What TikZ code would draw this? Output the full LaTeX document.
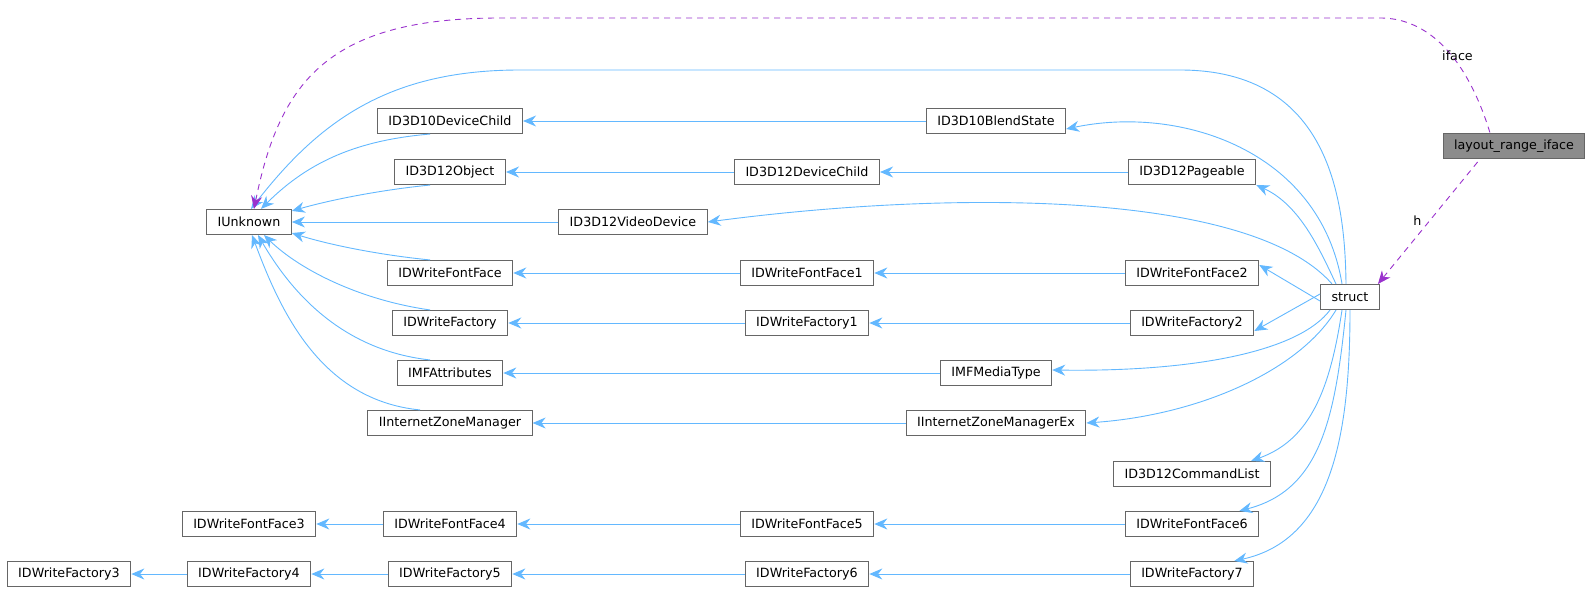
\documentclass[tikz,border=0pt]{standalone}
\usepackage{fontspec}
\setmainfont{DejaVu Sans}
\usepackage{tikz}
\usetikzlibrary{arrows.meta, positioning, calc}
\definecolor{edgeblue}{HTML}{63B8FF}
\definecolor{boxgray}{HTML}{666666}
\definecolor{usepurple}{HTML}{9A32CD}

\begin{document}
\begin{tikzpicture}[x=1pt, y=-1pt,
            node_style/.style={rectangle, draw=boxgray, line width=1.1pt, minimum height=25pt, inner xsep=11pt, inner ysep=0pt, font=\fontsize{12.7}{14}\selectfont, fill=white},
            cls/.style={node_style},
            current/.style={node_style, fill=black!45},
            inherit/.style={{Stealth[length=13pt,width=11pt]}-, draw=edgeblue, line width=0.9pt},
            member/.style={{Stealth[length=13pt,width=11pt]}-, draw=usepurple, line width=0.9pt, dash pattern=on 6pt off 5pt}
        ]
            \useasboundingbox (0,0) rectangle (1593,591);

% Class nodes
            \node[current] (iface) at (1514,146) {layout\_range\_iface};
            \node[cls] (strct) at (1350,297) {struct};
            \node[cls] (unknown) at (249,222) {IUnknown};
            \node[cls] (d3d10child) at (450,121) {ID3D10DeviceChild};
            \node[cls] (d3d12object) at (450,172) {ID3D12Object};
            \node[cls] (videodev) at (633,222) {ID3D12VideoDevice};
            \node[cls] (fontface) at (450,273) {IDWriteFontFace};
            \node[cls] (factory) at (450,323) {IDWriteFactory};
            \node[cls] (mfattr) at (450,373) {IMFAttributes};
            \node[cls] (zonemgr) at (450,423) {IInternetZoneManager};
            \node[cls] (blendstate) at (996,121) {ID3D10BlendState};
            \node[cls] (d3d12child) at (807,172) {ID3D12DeviceChild};
            \node[cls] (pageable) at (1192,172) {ID3D12Pageable};
            \node[cls] (fontface1) at (807,273) {IDWriteFontFace1};
            \node[cls] (fontface2) at (1192,273) {IDWriteFontFace2};
            \node[cls] (factory1) at (807,323) {IDWriteFactory1};
            \node[cls] (factory2) at (1192,323) {IDWriteFactory2};
            \node[cls] (mediatype) at (996,373) {IMFMediaType};
            \node[cls] (zonemgrex) at (996,423) {IInternetZoneManagerEx};
            \node[cls] (cmdlist) at (1192,474) {ID3D12CommandList};
            \node[cls] (fontface3) at (249,524) {IDWriteFontFace3};
            \node[cls] (fontface4) at (450,524) {IDWriteFontFace4};
            \node[cls] (fontface5) at (807,524) {IDWriteFontFace5};
            \node[cls] (fontface6) at (1192,524) {IDWriteFontFace6};
            \node[cls] (factory3) at (69,574) {IDWriteFactory3};
            \node[cls] (factory4) at (249,574) {IDWriteFactory4};
            \node[cls] (factory5) at (450,574) {IDWriteFactory5};
            \node[cls] (factory6) at (807,574) {IDWriteFactory6};
            \node[cls] (factory7) at (1192,574) {IDWriteFactory7};

% Inheritance from IUnknown
            \draw[inherit] ([xshift=12pt]unknown.north) .. controls (310,160) and (360,140) .. ([xshift=-20pt]d3d10child.south);
            \draw[inherit] ([yshift=-2pt]unknown.north east) .. controls (330,200) and (380,190) .. ([xshift=-20pt]d3d12object.south);
            \draw[inherit] (unknown) -- (videodev);
            \draw[inherit] ([yshift=2pt]unknown.south east) .. controls (330,245) and (380,255) .. ([xshift=-20pt]fontface.north);
            \draw[inherit] ([xshift=15pt]unknown.south) .. controls (300,270) and (360,300) .. ([xshift=-20pt]factory.north);
            \draw[inherit] ([xshift=9pt]unknown.south) .. controls (290,290) and (340,350) .. ([xshift=-20pt]mfattr.north);
            \draw[inherit] ([xshift=3pt]unknown.south) .. controls (280,310) and (320,400) .. ([xshift=-30pt]zonemgr.north);

% Horizontal chains
            \draw[inherit] (d3d10child) -- (blendstate);
            \draw[inherit] (d3d12object) -- (d3d12child);
            \draw[inherit] (d3d12child) -- (pageable);
            \draw[inherit] (fontface) -- (fontface1);
            \draw[inherit] (fontface1) -- (fontface2);
            \draw[inherit] (factory) -- (factory1);
            \draw[inherit] (factory1) -- (factory2);
            \draw[inherit] (mfattr) -- (mediatype);
            \draw[inherit] (zonemgr) -- (zonemgrex);
            \draw[inherit] (fontface3) -- (fontface4);
            \draw[inherit] (fontface4) -- (fontface5);
            \draw[inherit] (fontface5) -- (fontface6);
            \draw[inherit] (factory3) -- (factory4);
            \draw[inherit] (factory4) -- (factory5);
            \draw[inherit] (factory5) -- (factory6);
            \draw[inherit] (factory6) -- (factory7);

% Inheritance of struct
            \draw[inherit] ([xshift=2pt]unknown.north) .. controls (320,120) and (390,70) .. (520,70) -- (1180,70) .. controls (1330,70) and (1345,200) .. ([xshift=-4pt]strct.north);
            \draw[inherit] ([yshift=-8pt]blendstate.east) .. controls (1180,105) and (1320,150) .. ([xshift=-8pt]strct.north);
            \draw[inherit] (pageable.south east) .. controls (1300,205) and (1320,250) .. ([xshift=-14pt]strct.north);
            \draw[inherit] (videodev.east) .. controls (950,190) and (1250,190) .. ([xshift=-18pt]strct.north);
            \draw[inherit] ([yshift=8pt]fontface2.east) -- ([yshift=-4pt]strct.west);
            \draw[inherit] ([yshift=-8pt]factory2.east) -- ([yshift=3pt]strct.west);
            \draw[inherit] ([yshift=3pt]mediatype.east) .. controls (1200,372) and (1300,350) .. ([xshift=-20pt]strct.south);
            \draw[inherit] (zonemgrex.east) .. controls (1200,415) and (1300,370) .. ([xshift=-14pt]strct.south);
            \draw[inherit] ([xshift=-20pt]cmdlist.north east) .. controls (1310,440) and (1330,390) .. ([xshift=-8pt]strct.south);
            \draw[inherit] ([xshift=-20pt]fontface6.north east) .. controls (1320,490) and (1335,420) .. ([xshift=-4pt]strct.south);
            \draw[inherit] ([xshift=-20pt]factory7.north east) .. controls (1330,540) and (1350,440) .. (strct.south);

% Usage relations
            \draw[member] ([xshift=5pt]unknown.north) .. controls (280,80) and (330,18) .. (500,18) -- (1380,18) .. controls (1450,18) and (1480,100) .. ([xshift=-24pt]iface.north)
                node[pos=0.5, above=-1pt, font=\fontsize{12.7}{14}\selectfont, text=black] {iface};
            \draw[member] ([xshift=-2pt]strct.north east) -- ([xshift=-34pt]iface.south)
                node[pos=0.45, above left=-2pt, font=\fontsize{12.7}{14}\selectfont, text=black] {h};

        \end{tikzpicture}
\end{document}
